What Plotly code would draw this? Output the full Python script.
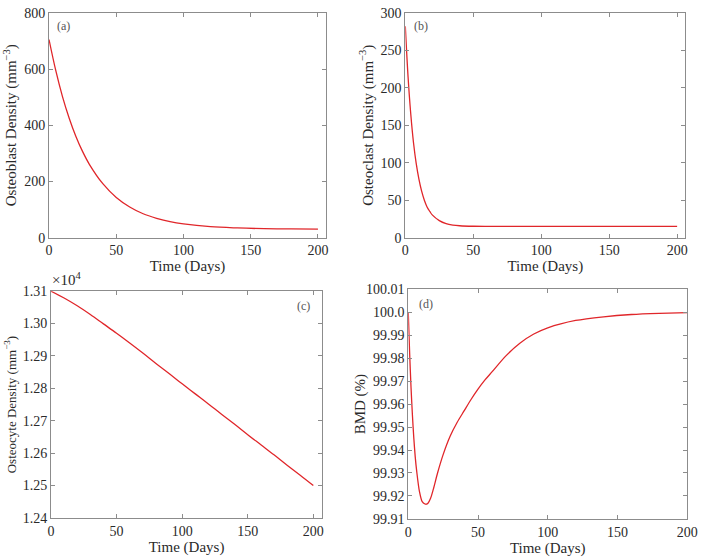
import plotly.graph_objects as go

# ---- data ----
t_a = [0, 5, 10, 15, 20, 25, 30, 40, 50, 60, 70, 80, 90, 100, 120, 140, 160, 180, 200]
osteoblast = [705, 595, 502, 425, 360, 306, 261, 192, 143, 109, 85, 69, 57, 49, 39, 34.5, 32, 31, 30.5]

t_b = [0, 2, 4, 6, 8, 10, 12, 14, 16, 18, 20, 25, 30, 35, 40, 50, 60, 80, 100, 150, 200]
osteoclast = [282, 215, 165, 127, 99, 78, 62, 50, 41, 35, 30, 22.7, 18.7, 16.8, 15.9, 15.2, 15, 15, 15, 15, 15]

t_c = [0, 10, 20, 30, 40, 50, 60, 70, 80, 90, 100, 110, 120, 130, 140, 150, 160, 170, 180, 190, 200]
osteocyte_e4 = [1.3100, 1.3079, 1.3055, 1.3028, 1.2999, 1.2970, 1.2940, 1.2909, 1.2877, 1.2846,
                1.2814, 1.2783, 1.2752, 1.2720, 1.2689, 1.2657, 1.2626, 1.2595, 1.2563, 1.2532, 1.2500]

t_d = [0, 1, 2, 3, 4, 5, 6, 8, 10, 12, 13, 14, 16, 18, 21, 25, 30, 35, 40, 45, 50, 55, 60,
       70, 80, 90, 100, 120, 140, 160, 180, 200]
bmd = [100.0, 99.982, 99.967, 99.955, 99.945, 99.937, 99.931, 99.922, 99.9175, 99.9165, 99.9164,
       99.9167, 99.919, 99.923, 99.930, 99.938, 99.946, 99.952, 99.957, 99.962, 99.9665, 99.9705,
       99.974, 99.981, 99.9865, 99.9905, 99.9932, 99.9964, 99.998, 99.999, 99.9995, 99.9998]

ticks_a = [0, 200, 400, 600, 800]
ticks_b = [0, 50, 100, 150, 200, 250, 300]
ticks_c = [1.24, 1.25, 1.26, 1.27, 1.28, 1.29, 1.30, 1.31]
ticks_d = [99.91, 99.92, 99.93, 99.94, 99.95, 99.96, 99.97, 99.98, 99.99, 100.0, 100.01]
ticktext_d = ["99.91", "99.92", "99.93", "99.94", "99.95", "99.96", "99.97", "99.98", "99.99", "100.0", "100.01"]
ticks_x = [0, 50, 100, 150, 200]

RED = "#e0262a"
AX = "#8c8c8c"
TXT = "#2a2a2a"
FONT = "Liberation Serif"
W, H = 709, 560

fig = go.Figure()
fig.add_trace(go.Scatter(x=t_a, y=osteoblast, mode="lines", line=dict(color=RED, width=1.3, shape="spline"), xaxis="x", yaxis="y"))
fig.add_trace(go.Scatter(x=t_b, y=osteoclast, mode="lines", line=dict(color=RED, width=1.3, shape="spline"), xaxis="x2", yaxis="y2"))
fig.add_trace(go.Scatter(x=t_c, y=osteocyte_e4, mode="lines", line=dict(color=RED, width=1.3, shape="spline"), xaxis="x3", yaxis="y3"))
fig.add_trace(go.Scatter(x=t_d, y=bmd, mode="lines", line=dict(color=RED, width=1.3, shape="spline", smoothing=0.8), xaxis="x4", yaxis="y4"))

def px_x(a, b):
    return [a / W, b / W]

def px_y(top, bottom):
    return [1 - bottom / H, 1 - top / H]

common = dict(showline=True, linecolor=AX, linewidth=1, mirror="allticks", ticks="inside",
              ticklen=4, tickcolor=AX, showgrid=False, zeroline=False,
              tickfont=dict(family=FONT, size=14, color=TXT))
title_font = dict(family=FONT, size=15, color=TXT)

def xax(dom, anchor, rng):
    return dict(domain=dom, anchor=anchor, range=rng, tickvals=ticks_x,
                title=dict(text="Time (Days)", font=title_font, standoff=0), **common)

fig.update_layout(
    width=W, height=H, margin=dict(l=0, r=0, t=0, b=0),
    paper_bgcolor="white", plot_bgcolor="white", showlegend=False,
    xaxis=xax(px_x(46, 329), "y", [0, 206]),
    yaxis=dict(domain=px_y(6, 237), anchor="x", range=[0, 800], tickvals=ticks_a,
               title=dict(text="Osteoblast Density (mm<sup>−3</sup>)", font=title_font, standoff=3), **common),
    xaxis2=xax(px_x(410, 696), "y2", [0, 206]),
    yaxis2=dict(domain=px_y(6, 237), anchor="x2", range=[0, 300], tickvals=ticks_b,
                title=dict(text="Osteoclast Density (mm<sup>−3</sup>)", font=title_font, standoff=3), **common),
    xaxis3=xax(px_x(48, 325), "y3", [0, 206.7]),
    yaxis3=dict(domain=px_y(292, 525), anchor="x3", range=[1.24, 1.31], tickvals=ticks_c,
                ticktext=[f"{v:.2f}" for v in ticks_c],
                title=dict(text="Osteocyte Density (mm<sup>−3</sup>)", font=dict(family=FONT, size=13, color=TXT), standoff=3), **common),
    xaxis4=xax(px_x(413, 698), "y4", [0, 200]),
    yaxis4=dict(domain=px_y(290, 526), anchor="x4", range=[99.91, 100.01], tickvals=ticks_d,
                ticktext=ticktext_d, **common),
)

fig.add_annotation(text="BMD (%)", x=364 / W, y=1 - 408 / H, xref="paper", yref="paper", showarrow=False,
                   textangle=-90, xanchor="center", yanchor="middle", font=title_font)

lab_font = dict(family=FONT, size=12, color="#555")
fig.add_annotation(text="(a)", x=52 / W, y=1 - 20 / H, xref="paper", yref="paper", showarrow=False, xanchor="left", yanchor="middle", font=lab_font)
fig.add_annotation(text="(b)", x=417 / W, y=1 - 20 / H, xref="paper", yref="paper", showarrow=False, xanchor="left", yanchor="middle", font=lab_font)
fig.add_annotation(text="(c)", x=297 / W, y=1 - 307 / H, xref="paper", yref="paper", showarrow=False, xanchor="left", yanchor="middle", font=lab_font)
fig.add_annotation(text="(d)", x=422 / W, y=1 - 305 / H, xref="paper", yref="paper", showarrow=False, xanchor="left", yanchor="middle", font=lab_font)
fig.add_annotation(text="×10<sup>4</sup>", x=47 / W, y=1 - 291 / H, xref="paper", yref="paper", showarrow=False,
                   xanchor="left", yanchor="bottom", font=dict(family=FONT, size=15, color=TXT))

fig.write_html("out.html")
